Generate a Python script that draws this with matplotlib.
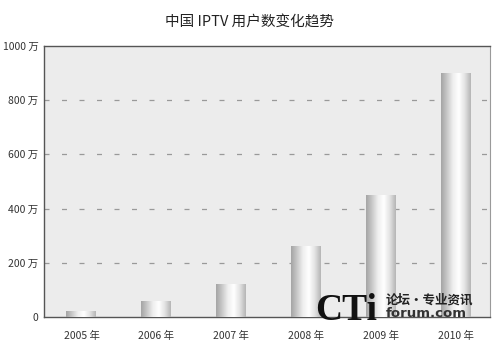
import numpy as np
import matplotlib.pyplot as plt
from matplotlib.colors import LinearSegmentedColormap

plt.rcParams['font.family'] = ['Noto Sans CJK SC', 'DejaVu Sans']

years = ['2005 年', '2006 年', '2007 年', '2008 年', '2009 年', '2010 年']
users = [22, 60, 120, 262, 452, 900]   # 万
yticks = [0, 200, 400, 600, 800, 1000]
ytick_labels = ['0', '200 万', '400 万', '600 万', '800 万', '1000 万']

fig = plt.figure(figsize=(5.03, 3.61), dpi=100)
ax = fig.add_axes([44 / 503, 1 - 317 / 361, 446 / 503, 271 / 361])
ax.set_facecolor('#ececec')

x = np.arange(len(years))
bars = ax.bar(x, users, width=0.4, color='none', zorder=3)

# cylinder-like gray shading for each bar
cmap = LinearSegmentedColormap.from_list(
    'cyl', ['#a4a4a4', '#c8c8c8', '#efefef', '#ffffff', '#e2e2e2', '#b4b4b4'])
grad = np.linspace(0, 1, 256).reshape(1, -1)
for b in bars:
    x0, y0 = b.get_x(), b.get_y()
    w, h = b.get_width(), b.get_height()
    im = ax.imshow(grad, cmap=cmap, aspect='auto', extent=[x0, x0 + w, y0, y0 + h],
                   zorder=3, interpolation='bicubic')
    im.set_clip_path(b)

for v in [200, 400, 600, 800]:
    ax.axhline(v, color='#999999', lw=0.9, ls=(0, (4, 10)), zorder=2)

ax.set_xlim(-0.5, 5.45)
ax.set_ylim(0, 1000)
ax.set_xticks(x)
ax.set_xticklabels(years, fontsize=7.5, color='#333333')
ax.set_yticks(yticks)
ax.set_yticklabels(ytick_labels, fontsize=7.5, color='#333333')
ax.tick_params(length=0, pad=4)
ax.tick_params(axis='x', pad=10)

for side in ['left', 'bottom', 'top']:
    ax.spines[side].set_color('#555555')
    ax.spines[side].set_linewidth(1.0)
ax.spines['right'].set_color('#9a9a9a')

fig.text(0.497, 1 - 22 / 361, '中国 IPTV 用户数变化趋势', ha='center', va='center',
         fontsize=10.5, color='#222222')

# watermark
fig.text(315 / 503, 1 - 320 / 361, 'CTi', fontsize=27, family='Liberation Serif',
         fontweight='bold', color='#111111', va='baseline')
fig.text(386 / 503, 1 - 304 / 361, '论坛·专业资讯', fontsize=9, fontweight='bold',
         color='#222222', va='baseline')
fig.text(386 / 503, 1 - 317 / 361, 'forum.com', fontsize=9.5, family='DejaVu Sans',
         fontweight='bold', color='#333333', va='baseline')

fig.savefig('out.png', dpi=100)
